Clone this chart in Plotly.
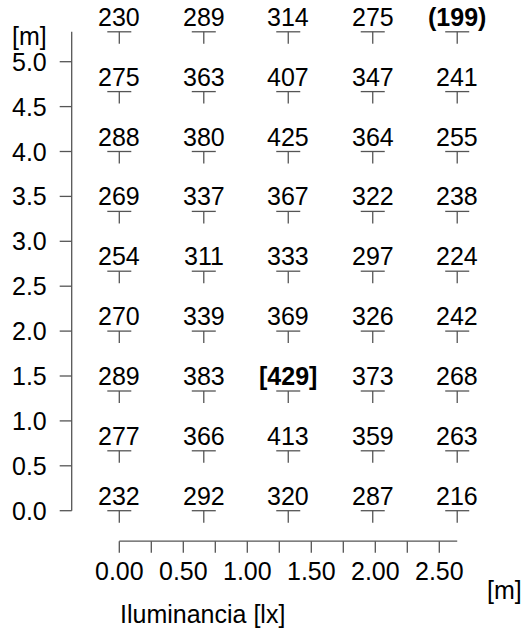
import plotly.graph_objects as go

# ---- data ----
x_pos = [0.0, 0.66, 1.32, 1.98, 2.64]                                  # column positions [m]
y_pos = [0.0, 0.667, 1.333, 2.0, 2.667, 3.333, 4.0, 4.667, 5.333]      # row positions [m]

row_0 = [232, 292, 320, 287, 216]
row_1 = [277, 366, 413, 359, 263]
row_2 = [289, 383, 429, 373, 268]
row_3 = [270, 339, 369, 326, 242]
row_4 = [254, 311, 333, 297, 224]
row_5 = [269, 337, 367, 322, 238]
row_6 = [288, 380, 425, 364, 255]
row_7 = [275, 363, 407, 347, 241]
row_8 = [230, 289, 314, 275, 199]
lux_rows = [row_0, row_1, row_2, row_3, row_4, row_5, row_6, row_7, row_8]

x_ticks = [0.0, 0.25, 0.5, 0.75, 1.0, 1.25, 1.5, 1.75, 2.0, 2.25, 2.5]
x_tick_labels = ["0.00", "0.50", "1.00", "1.50", "2.00", "2.50"]
x_label_vals = [0.0, 0.5, 1.0, 1.5, 2.0, 2.5]
y_ticks = [0.0, 0.5, 1.0, 1.5, 2.0, 2.5, 3.0, 3.5, 4.0, 4.5, 5.0]
y_tick_labels = ["0.0", "0.5", "1.0", "1.5", "2.0", "2.5", "3.0", "3.5", "4.0", "4.5", "5.0"]

x_title = "Iluminancia [lx]"
unit_label = "[m]"

# ---- styling ----
FONT = "Liberation Sans, Arial, Helvetica, sans-serif"
FS = 25
AX = "#555555"
W, H = 525, 634
PX_X = 128.0     # pixels per metre (x)
PX_Y = 89.8      # pixels per metre (y)
X0_PIX = 119.3
Y0_PIX = 510.7

xr = [-X0_PIX / PX_X, (W - X0_PIX) / PX_X]
yr = [-(H - Y0_PIX) / PX_Y, Y0_PIX / PX_Y]

all_vals = [v for r in lux_rows for v in r]
vmin, vmax = min(all_vals), max(all_vals)

fig = go.Figure()
fig.add_trace(go.Scatter(
    x=[x for _ in y_pos for x in x_pos],
    y=[y for y in y_pos for _ in x_pos],
    mode="markers", marker=dict(opacity=0), hoverinfo="skip", showlegend=False))

shapes = []
annotations = []
line_style = dict(color=AX, width=1.3)

for yi, row in zip(y_pos, lux_rows):
    for xi, v in zip(x_pos, row):
        shapes.append(dict(type="line", xref="x", yref="y",
                           xsizemode="pixel", ysizemode="pixel",
                           xanchor=xi, yanchor=yi, x0=-12, x1=12, y0=0, y1=0,
                           line=line_style))
        shapes.append(dict(type="line", xref="x", yref="y",
                           xsizemode="pixel", ysizemode="pixel",
                           xanchor=xi, yanchor=yi, x0=0, x1=0, y0=0, y1=-12,
                           line=line_style))
        if v == vmin:
            txt = "<b>(%d)</b>" % v
        elif v == vmax:
            txt = "<b>[%d]</b>" % v
        else:
            txt = str(v)
        annotations.append(dict(x=xi, y=yi, xref="x", yref="y", text=txt,
                                showarrow=False, xanchor="center", yanchor="middle",
                                yshift=15, font=dict(family=FONT, size=FS, color="black")))

# x axis line and ticks
XAX_OFF = -30.5
shapes.append(dict(type="line", xref="x", yref="y", ysizemode="pixel", yanchor=0,
                   x0=0, x1=max(x_pos), y0=XAX_OFF, y1=XAX_OFF, line=line_style))
for t in x_ticks:
    shapes.append(dict(type="line", xref="x", yref="y", ysizemode="pixel", yanchor=0,
                       x0=t, x1=t, y0=XAX_OFF, y1=XAX_OFF - 11.5, line=line_style))
for t, lab in zip(x_label_vals, x_tick_labels):
    annotations.append(dict(x=t, y=0, xref="x", yref="y", text=lab, showarrow=False,
                            xanchor="center", yanchor="middle", yshift=-60,
                            font=dict(family=FONT, size=FS, color="black")))

# y axis line and ticks
YAX_OFF = -47.6
shapes.append(dict(type="line", xref="x", yref="y", xsizemode="pixel", xanchor=0,
                   x0=YAX_OFF, x1=YAX_OFF, y0=0, y1=max(y_pos), line=line_style))
for t in y_ticks:
    shapes.append(dict(type="line", xref="x", yref="y", xsizemode="pixel", xanchor=0,
                       x0=YAX_OFF, x1=YAX_OFF - 12, y0=t, y1=t, line=line_style))
for t, lab in zip(y_ticks, y_tick_labels):
    annotations.append(dict(x=0, y=t, xref="x", yref="y", text=lab, showarrow=False,
                            xanchor="right", yanchor="middle", xshift=-70.5,
                            font=dict(family=FONT, size=FS, color="black")))

# unit labels and title
annotations.append(dict(x=0, y=max(y_pos), xref="x", yref="y", text=unit_label,
                        showarrow=False, xanchor="right", yanchor="middle",
                        xshift=-70.5, yshift=-4,
                        font=dict(family=FONT, size=FS, color="black")))
annotations.append(dict(x=max(x_pos), y=0, xref="x", yref="y", text=unit_label,
                        showarrow=False, xanchor="center", yanchor="middle",
                        xshift=47, yshift=-79,
                        font=dict(family=FONT, size=FS, color="black")))
annotations.append(dict(x=0, y=0, xref="x", yref="y", text=x_title,
                        showarrow=False, xanchor="left", yanchor="middle",
                        xshift=-1.5, yshift=-103,
                        font=dict(family=FONT, size=FS, color="black")))

fig.update_layout(
    width=W, height=H,
    margin=dict(l=0, r=0, t=0, b=0, pad=0),
    paper_bgcolor="white", plot_bgcolor="white",
    xaxis=dict(range=xr, visible=False, fixedrange=True),
    yaxis=dict(range=yr, visible=False, fixedrange=True),
    shapes=shapes, annotations=annotations, showlegend=False,
    hovermode=False,
)

fig.write_html(
    "out.html",
    config={"displayModeBar": False, "staticPlot": True},
    post_script="document.body.style.margin='0';document.body.style.overflow='hidden';",
)
